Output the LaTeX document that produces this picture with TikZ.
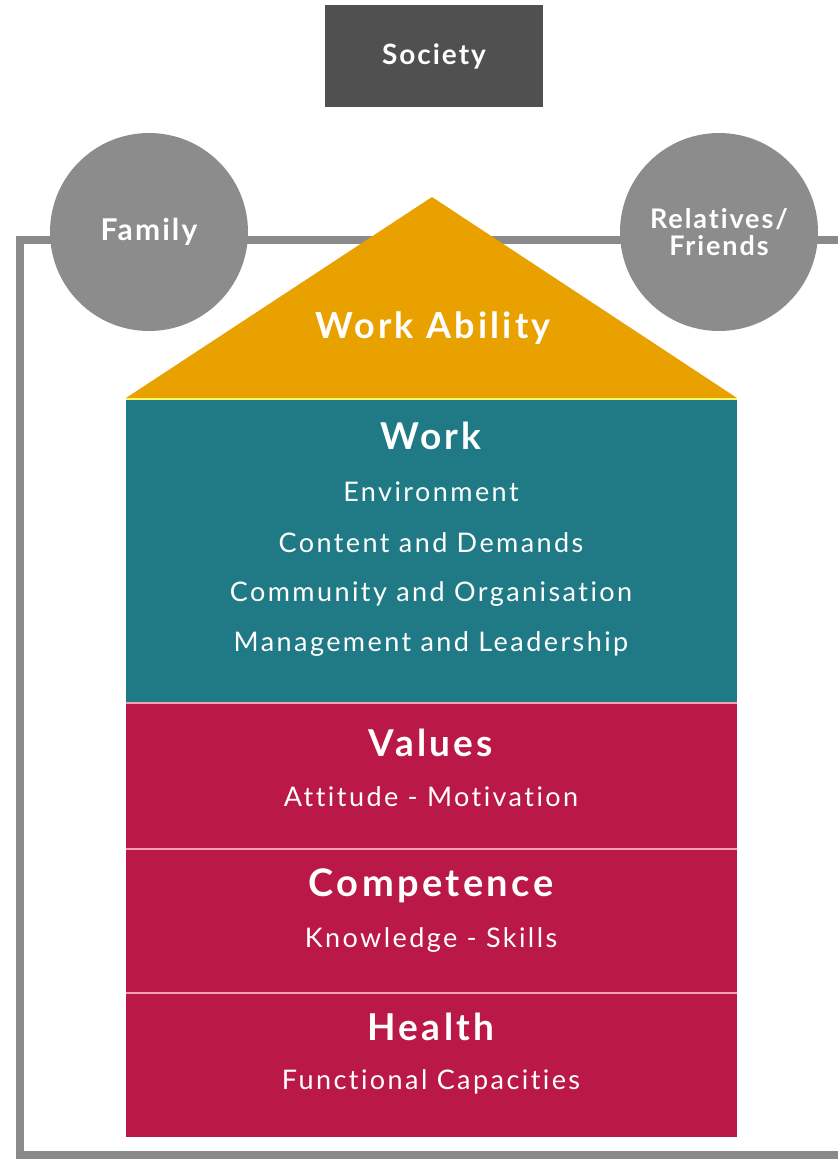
\documentclass[tikz,border=0pt]{standalone}
\usepackage{fontspec}
\setmainfont{Lato}
\newfontfamily\subfont[LetterSpace=9,Ligatures=NoCommon]{Lato}
\newfontfamily\headfont[LetterSpace=9,Ligatures=NoCommon]{Lato}
\newfontfamily\circfont[LetterSpace=7,Ligatures=NoCommon]{Lato}
\definecolor{societyc}{HTML}{505050}
\definecolor{framec}{HTML}{8A8A8A}
\definecolor{circlec}{HTML}{8C8C8C}
\definecolor{roofc}{HTML}{E9A100}
\definecolor{workc}{HTML}{1F7A85}
\definecolor{redc}{HTML}{BA1846}
\definecolor{sepred}{HTML}{F2A0B4}
\tikzset{
  head/.style={text=white,font=\headfont\fontsize{37}{40}\selectfont\bfseries,inner sep=0pt},
  sub/.style={text=white,font=\subfont\fontsize{27}{30}\selectfont,inner sep=0pt},
  circ/.style={circle,fill=circlec,minimum size=198pt,inner sep=0pt,text=white,align=center,font=\circfont\fontsize{27}{30}\selectfont\bfseries},
  frameline/.style={draw=framec,line width=8pt},
}
\begin{document}
\begin{tikzpicture}[x=1pt,y=-1pt]
\useasboundingbox (0,0) rectangle (838,1159);
% frame
\coordinate (fl) at (20,240);
\coordinate (fr) at (838,240);
\coordinate (bl) at (20,1155);
\coordinate (br) at (838,1155);
\draw[frameline] (fr) -- (fl) -- (bl) -- (br);
% society
\node[fill=societyc,minimum width=218pt,minimum height=102pt,inner sep=0pt,text=white,font=\circfont\fontsize{28}{30}\selectfont\bfseries] (society) at (434,56) {Society};
% circles
\node[circ,font=\circfont\fontsize{30}{32}\selectfont\bfseries] (family) at (149,232) {Family};
\node[circ] (relatives) at (719,232) {Relatives/\\[-3pt]Friends};
% roof
\fill[roofc] (126,398) -- (432,197) -- (737,398) -- cycle;
\node[head,font=\headfont\fontsize{36}{38}\selectfont\bfseries] (ability) at (433,328) {Work Ability};
% body
\fill[workc] (126,400) rectangle (737,703);
\fill[redc] (126,703) rectangle (737,1137);
\draw[draw=yellow!60!white,line width=2pt] (126,399) -- (737,399);
\draw[draw=sepred,line width=2pt] (126,703) -- (737,703);
\draw[draw=sepred,line width=2pt] (126,849) -- (737,849);
\draw[draw=sepred,line width=2pt] (126,993) -- (737,993);
% work
\node[head] (work) at (431,436) {Work};
\node[sub] (env) at (431,492) {Environment};
\node[sub] (cont) at (431,543) {Content and Demands};
\node[sub] (comm) at (431,594) {Community and Organisation};
\node[sub] (mgmt) at (431,644) {Management and Leadership};
% values
\node[head] (values) at (431,743) {Values};
\node[sub] (att) at (431,797) {Attitude - Motivation};
\node[head,font=\headfont\fontsize{38}{40}\selectfont\bfseries] (comp) at (431,886) {Competence};
\node[sub] (know) at (431,940) {Knowledge - Skills};
\node[head] (health) at (431,1027) {Health};
\node[sub] (func) at (431,1082) {Functional Capacities};
\end{tikzpicture}
\end{document}
